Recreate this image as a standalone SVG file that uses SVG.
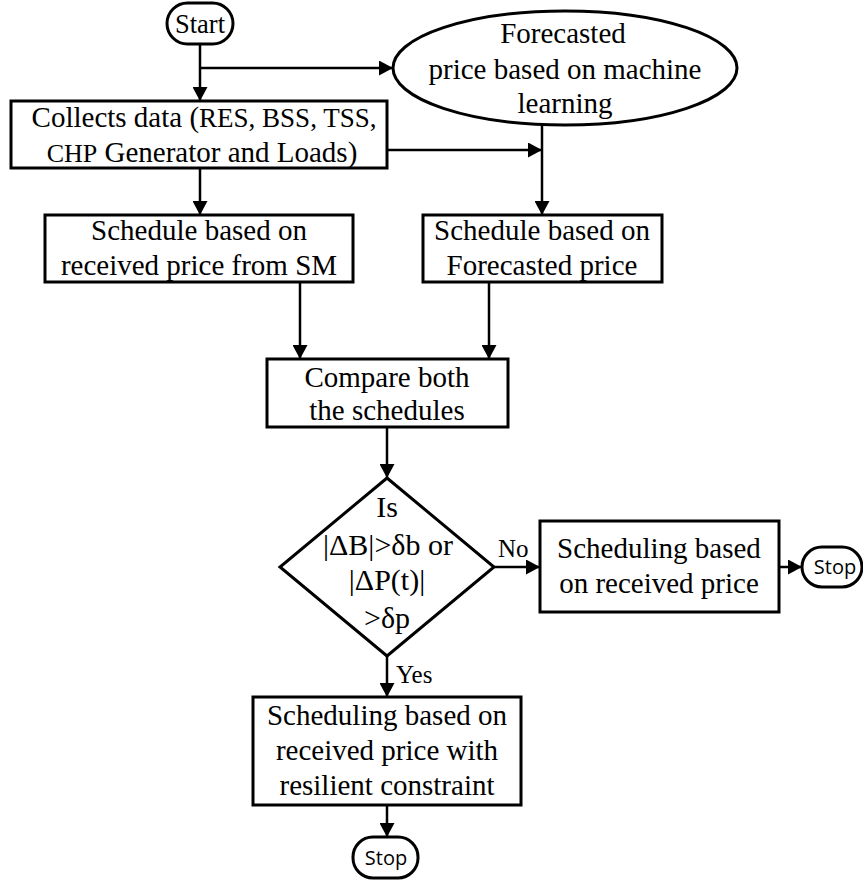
<svg xmlns="http://www.w3.org/2000/svg" width="863" height="882" viewBox="0 0 863 882">
<style>
.box{fill:#fff;stroke:#000;stroke-width:3}
.ln{fill:none;stroke:#000;stroke-width:2.5}
.t{font-family:"Liberation Serif","Times New Roman",serif;font-size:29px;fill:#000;text-anchor:middle}
.s{font-family:"Open Sans","Noto Sans",sans-serif;font-size:20px;fill:#000;text-anchor:middle}
.lbl{font-family:"Liberation Serif","Times New Roman",serif;font-size:25px;fill:#000}
</style>
<defs>
<marker id="ah" markerUnits="userSpaceOnUse" markerWidth="15" markerHeight="15" viewBox="0 0 15 15" refX="14" refY="7.5" orient="auto">
<path d="M0,0 L14,7.5 L0,15 z" fill="#000"/>
</marker>
</defs>
<rect width="863" height="882" fill="#fff"/>
<g id="connectors">
<path class="ln" d="M200,45 V101" marker-end="url(#ah)"/>
<path class="ln" d="M200,68 H393" marker-end="url(#ah)"/>
<path class="ln" d="M387,150 H542" marker-end="url(#ah)"/>
<path class="ln" d="M542,125 V215" marker-end="url(#ah)"/>
<path class="ln" d="M200,168 V215" marker-end="url(#ah)"/>
<path class="ln" d="M300,282 V359" marker-end="url(#ah)"/>
<path class="ln" d="M489,282 V359" marker-end="url(#ah)"/>
<path class="ln" d="M387,427 V478" marker-end="url(#ah)"/>
<path class="ln" d="M494,567 H540" marker-end="url(#ah)"/>
<path class="ln" d="M779,567 H802" marker-end="url(#ah)"/>
<path class="ln" d="M387,656 V697" marker-end="url(#ah)"/>
<path class="ln" d="M387,805 V837" marker-end="url(#ah)"/>
<text class="lbl" x="498" y="557">No</text>
<text class="lbl" x="396" y="683">Yes</text>
</g>
<g id="start">
<rect class="box" x="167" y="3" width="66" height="41" rx="20.5"/>
<text class="t" x="200" y="33" style="font-size:28px" textLength="50" lengthAdjust="spacingAndGlyphs">Start</text>
</g>
<g id="forecast">
<ellipse class="box" cx="565" cy="68" rx="172" ry="57"/>
<text class="t" x="563" y="43">Forecasted</text>
<text class="t" x="565" y="79">price based on machine</text>
<text class="t" x="565" y="113">learning</text>
</g>
<g id="collect">
<rect class="box" x="11" y="101" width="376" height="67"/>
<text class="t" x="204" y="127">Collects data (<tspan style="font-size:27px">RES, BSS, TSS,</tspan></text>
<text class="t" x="202" y="162"><tspan style="font-size:26px">CHP</tspan> Generator and Loads)</text>
</g>
<g id="sched-sm">
<rect class="box" x="45" y="215" width="308" height="67"/>
<text class="t" x="199" y="240">Schedule based on</text>
<text class="t" x="199" y="275">received price from SM</text>
</g>
<g id="sched-fc">
<rect class="box" x="423" y="215" width="239" height="67"/>
<text class="t" x="542" y="240">Schedule based on</text>
<text class="t" x="542" y="275">Forecasted price</text>
</g>
<g id="compare">
<rect class="box" x="267" y="359" width="241" height="68"/>
<text class="t" x="387" y="387">Compare both</text>
<text class="t" x="387" y="420">the schedules</text>
</g>
<g id="decision">
<polygon class="box" points="387,478 494,567 387,656 280,567"/>
<text class="t" x="387" y="517" style="font-size:30px">Is</text>
<text class="t" x="388" y="555" style="font-size:30px">|ΔB|&gt;δb or</text>
<text class="t" x="387" y="590" style="font-size:30px">|ΔP(t)|</text>
<text class="t" x="387" y="628" style="font-size:30px">&gt;δp</text>
</g>
<g id="sched-rp">
<rect class="box" x="540" y="521" width="239" height="91"/>
<text class="t" x="659" y="558">Scheduling based</text>
<text class="t" x="659" y="593">on received price</text>
</g>
<g id="stop1">
<rect class="box" x="802" y="547" width="60" height="40" rx="20"/>
<text class="s" x="835" y="574">Stop</text>
</g>
<g id="sched-res">
<rect class="box" x="253" y="697" width="268" height="108"/>
<text class="t" x="387" y="725">Scheduling based on</text>
<text class="t" x="387" y="760">received price with</text>
<text class="t" x="387" y="795">resilient constraint</text>
</g>
<g id="stop2">
<rect class="box" x="353" y="837" width="65" height="41" rx="20"/>
<text class="s" x="386" y="865">Stop</text>
</g>
</svg>
